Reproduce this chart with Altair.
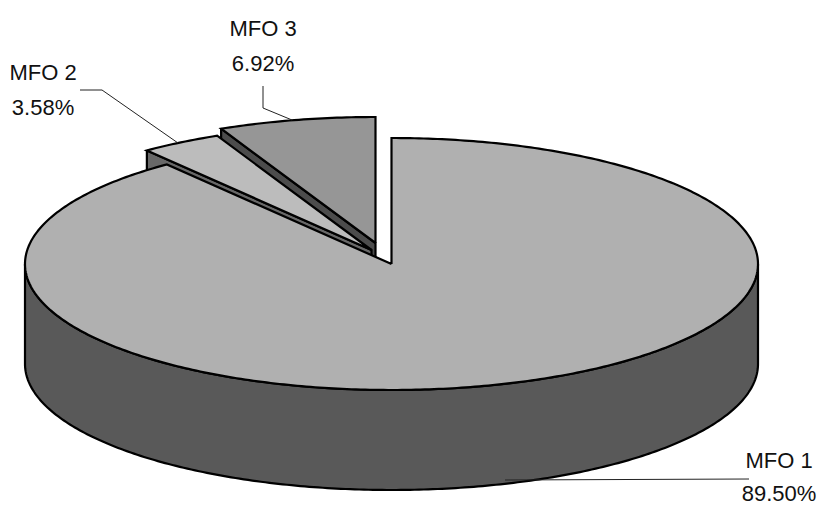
import numpy as np
import pandas as pd
import altair as alt

names = ["MFO 1", "MFO 2", "MFO 3"]
shares = [89.50, 3.58, 6.92]
top_colors = ["#B0B0B0", "#BCBCBC", "#969696"]
wall_colors = ["#595959", "#686868", "#4C4C4C"]
# pull-out offset of each slice and pie geometry (pixels of the picture)
offsets = [(0, 0), (-20, -14), (-16, -21)]
CX, CY, A, B, DEPTH = 391.5, 264, 366.5, 126, 100

label_x = [779, 43, 263]
label_y = [461, 73, 29]
label_gap = 35
leaders = [
    [(749, 479), (505, 480)],
    [(80, 90), (102, 90), (178, 143)],
    [(263, 86), (263, 108), (292, 120)],
]

# slice angle limits, clockwise from 12 o'clock, from the shares
cum = np.cumsum([0] + shares) / 100 * 2 * np.pi

xs = alt.Scale(domain=[8, 820], range=[0, 812], nice=False, zero=False)
ys = alt.Scale(domain=[8, 506], range=[0, 498], nice=False, zero=False)


def rim(t0, t1, ox, oy, dz=0.0):
    t = np.linspace(t0, t1, max(3, int(abs(t1 - t0) * 80)))
    return list(zip(CX + ox + A * np.sin(t), CY + oy - B * np.cos(t) + dz))


layers = []


def poly(points, fill, width=2.2):
    df = pd.DataFrame(points, columns=["x", "y"])
    df["i"] = range(len(df))
    layers.append(
        alt.Chart(df)
        .mark_line(fill=fill, stroke="black", strokeWidth=width, strokeJoin="miter", interpolate="linear", clip=False)
        .encode(
            x=alt.X("x:Q", scale=xs, axis=None),
            y=alt.Y("y:Q", scale=ys, axis=None),
            order="i:Q",
        )
    )


# back to front: MFO 3, MFO 2, MFO 1
for k in [2, 1, 0]:
    ox, oy = offsets[k]
    t0, t1 = cum[k], cum[k + 1]
    apex = (CX + ox, CY + oy)
    apex_low = (CX + ox, CY + oy + DEPTH)
    corner0 = rim(t0, t0, ox, oy)[0]
    if k == 0:
        # outer wall: visible front half of the rim
        front = rim(np.pi / 2, 3 * np.pi / 2, ox, oy)
        low = rim(3 * np.pi / 2, np.pi / 2, ox, oy, DEPTH)
        poly(front + low + front[:1], wall_colors[k])
    else:
        # cut face on the left side of the slice
        poly([corner0, apex, apex_low, (corner0[0], corner0[1] + DEPTH), corner0], wall_colors[k])
    top = [apex] + rim(t0, t1, ox, oy) + [apex]
    poly(top, top_colors[k])

# leader lines
for pts in leaders:
    df = pd.DataFrame(pts, columns=["x", "y"])
    df["i"] = range(len(df))
    layers.append(
        alt.Chart(df)
        .mark_line(stroke="#222222", strokeWidth=1)
        .encode(x=alt.X("x:Q", scale=xs, axis=None), y=alt.Y("y:Q", scale=ys, axis=None), order="i:Q")
    )

# labels
rows = []
for n, s, lx, ly in zip(names, shares, label_x, label_y):
    rows.append({"x": lx, "y": ly, "t": n})
    rows.append({"x": lx, "y": ly + label_gap - (2 if n == "MFO 1" else 0), "t": f"{s:.2f}%"})
layers.append(
    alt.Chart(pd.DataFrame(rows))
    .mark_text(font="Liberation Sans", fontSize=22, color="#111111", align="center", baseline="middle")
    .encode(x=alt.X("x:Q", scale=xs, axis=None), y=alt.Y("y:Q", scale=ys, axis=None), text="t:N")
)

chart = (
    alt.layer(*layers)
    .properties(width=812, height=498, padding=0, autosize=alt.AutoSizeParams(type="none"))
    .configure_view(stroke=None)
)
chart.save("out.html", embed_options={"renderer": "svg", "actions": False})
